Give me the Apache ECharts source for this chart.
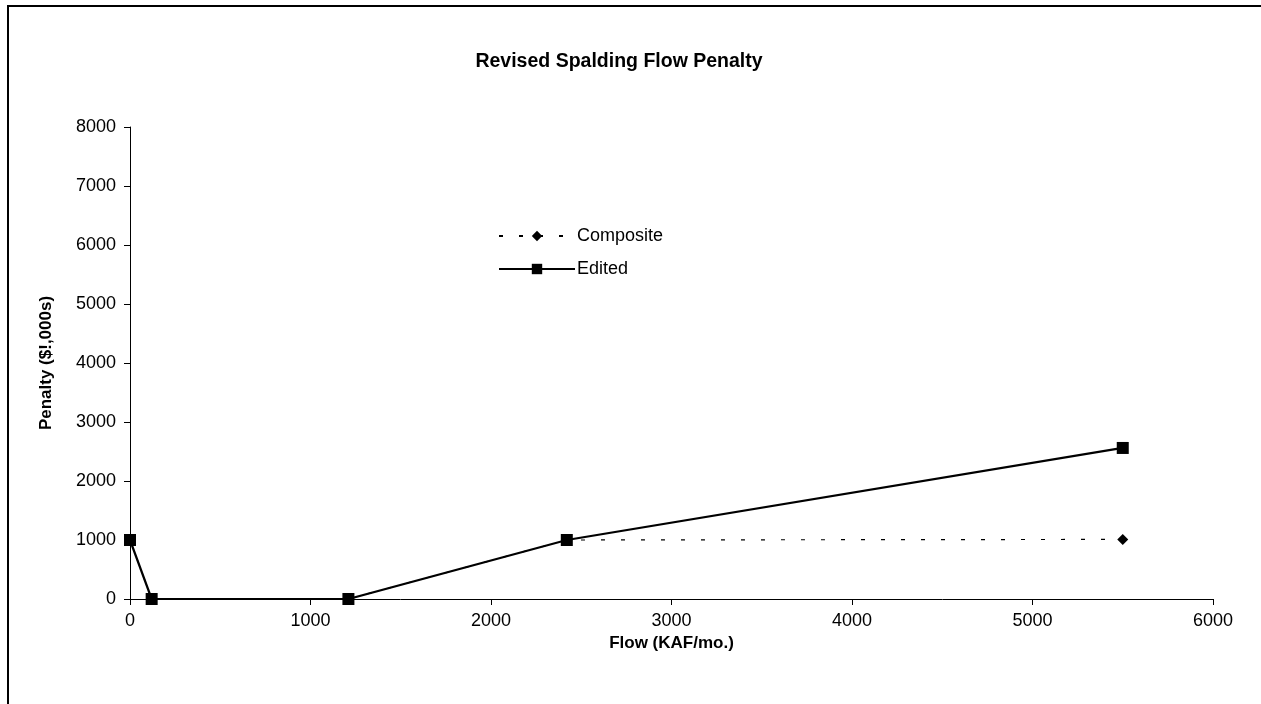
<!DOCTYPE html>
<html><head><meta charset="utf-8">
<script src="https://cdn.jsdelivr.net/npm/echarts@6/dist/echarts.min.js"></script>
<style>html,body{margin:0;padding:0;background:#fff}#c{width:1261px;height:704px}</style>
</head><body><div id="c"></div>
<script>
const flowEdited = [0, 120, 1210, 2420, 5500];
const penaltyEdited = [1000, 0, 0, 1000, 2560];
const flowComposite = [0, 120, 1210, 2420, 5500];
const penaltyComposite = [1000, 0, 0, 1000, 1010];
const xTicks = [0, 1000, 2000, 3000, 4000, 5000, 6000];
const yTicks = [0, 1000, 2000, 3000, 4000, 5000, 6000, 7000, 8000];

const chart = echarts.init(document.getElementById('c'));
const font = 'Liberation Sans, Arial, sans-serif';
chart.setOption({
  animation: false,
  textStyle: {fontFamily: font},
  title: {text: 'Revised Spalding Flow Penalty', left: 614, textAlign: 'center', top: 47,
    textStyle: {fontSize: 19.5, fontWeight: 'bold', color: '#000', fontFamily: font}},
  graphic: [{type: 'rect', shape: {x: 8, y: 6, width: 1262, height: 710},
    style: {fill: 'none', stroke: '#000', lineWidth: 2}, silent: true}],
  grid: {left: 130, right: 48, top: 127, bottom: 105},
  legend: {orient: 'vertical', left: 493, top: 222, itemWidth: 76, itemHeight: 13, itemGap: 15,
    textStyle: {fontSize: 18, color: '#000', fontFamily: font, padding: [0,0,0,-3]},
    data: ['Composite', 'Edited']},
  xAxis: {type: 'value', min: 0, max: 6000, interval: 1000,
    name: 'Flow (KAF/mo.)', nameLocation: 'middle', nameGap: 35,
    nameTextStyle: {fontSize: 17, fontWeight: 'bold', color: '#000', fontFamily: font},
    axisLine: {lineStyle: {color: '#000', width: 1}},
    axisTick: {show: true, length: 6, inside: false, lineStyle: {color: '#000'}},
    axisLabel: {fontSize: 18, color: '#000', margin: 13, fontFamily: font,
      formatter: v => xTicks.includes(v) ? String(v) : ''},
    splitLine: {show: false}},
  yAxis: {type: 'value', min: 0, max: 8000, interval: 1000,
    name: 'Penalty ($!,000s)', nameLocation: 'middle', nameGap: 75, nameRotate: 90,
    nameTextStyle: {fontSize: 17, fontWeight: 'bold', color: '#000', fontFamily: font},
    axisLine: {show: true, lineStyle: {color: '#000', width: 1}},
    axisTick: {show: true, length: 6, lineStyle: {color: '#000'}},
    axisLabel: {fontSize: 18, color: '#000', margin: 14, fontFamily: font,
      formatter: v => yTicks.includes(v) ? String(v) : ''},
    splitLine: {show: false}},
  series: [
    {name: 'Composite', type: 'line', z: 2,
      data: flowComposite.map((x, i) => [x, penaltyComposite[i]]),
      symbol: 'diamond', symbolSize: 11, showSymbol: true,
      lineStyle: {color: '#000', width: 1.2, type: [4, 16]},
      itemStyle: {color: '#000'}},
    {name: 'Edited', type: 'line', z: 3,
      data: flowEdited.map((x, i) => [x, penaltyEdited[i]]),
      symbol: 'rect', symbolSize: 12, showSymbol: true,
      lineStyle: {color: '#000', width: 2.2},
      itemStyle: {color: '#000'}}
  ]
});
</script></body></html>
